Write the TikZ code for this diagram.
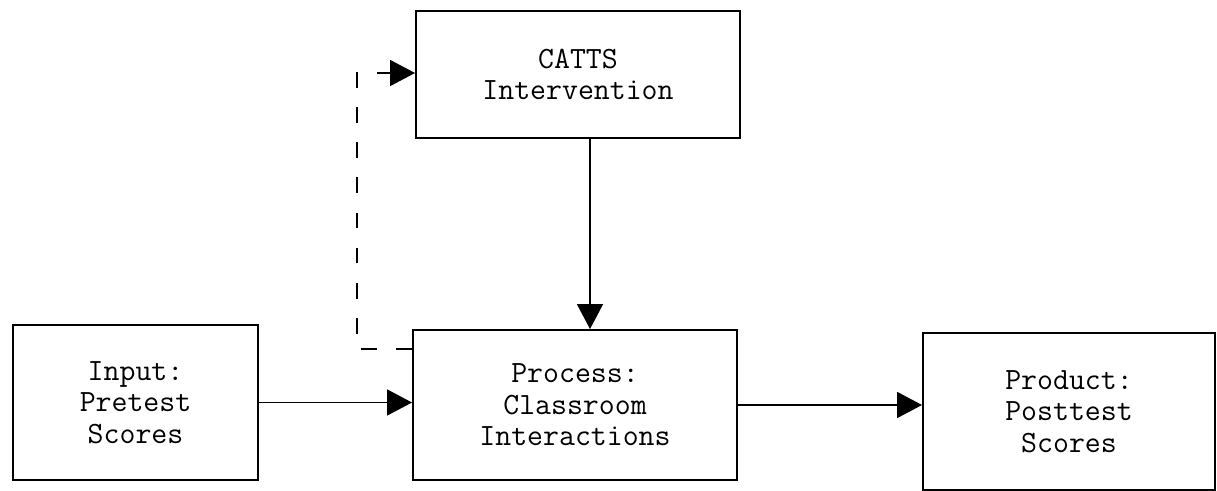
\documentclass[tikz,border=0pt]{standalone}
\usepackage{xcolor}
\usepackage{tikz}
\usetikzlibrary{arrows.meta}

\begin{document}
\begin{tikzpicture}[
    caja/.style={draw, line width=1.1pt, align=center, font=\ttfamily\fontsize{17.6}{18}\selectfont},
    flecha/.style={line width=1pt, -{Triangle[length=0.5cm, width=0.52cm]}}
  ]
      \useasboundingbox (0,0) rectangle (24.34,-9.82);

      % Nodos principales
      \node[caja, minimum width=6.48cm, minimum height=2.54cm] (catts) at (11.56,-1.49) {CATTS\\Intervention};
      \node[caja, minimum width=4.9cm, minimum height=3.1cm] (input) at (2.71,-8.05) {Input:\\Pretest\\Scores};
      \node[caja, minimum width=6.48cm, minimum height=3cm] (process) at (11.5,-8.1) {Process:\\Classroom\\Interactions};
      \node[caja, minimum width=5.84cm, minimum height=3.14cm] (product) at (21.38,-8.23) {Product:\\Posttest\\Scores};
      \coordinate (retorno) at (7.14,-1.46);

      % Flechas del flujo principal
      \draw[flecha] ([xshift=0.24cm]catts.south) -- ([xshift=0.24cm]catts.south |- process.north);
      \draw[flecha] (input.east) -- (input.east -| process.west);
      \draw[flecha] (process.east) -- (process.east -| product.west);

      % Flujo de retorno
      \draw[flecha, dash pattern=on 9pt off 11pt] ([yshift=-0.4cm]process.north west) -| (retorno) -- (retorno -| catts.west);
    \end{tikzpicture}
\end{document}
